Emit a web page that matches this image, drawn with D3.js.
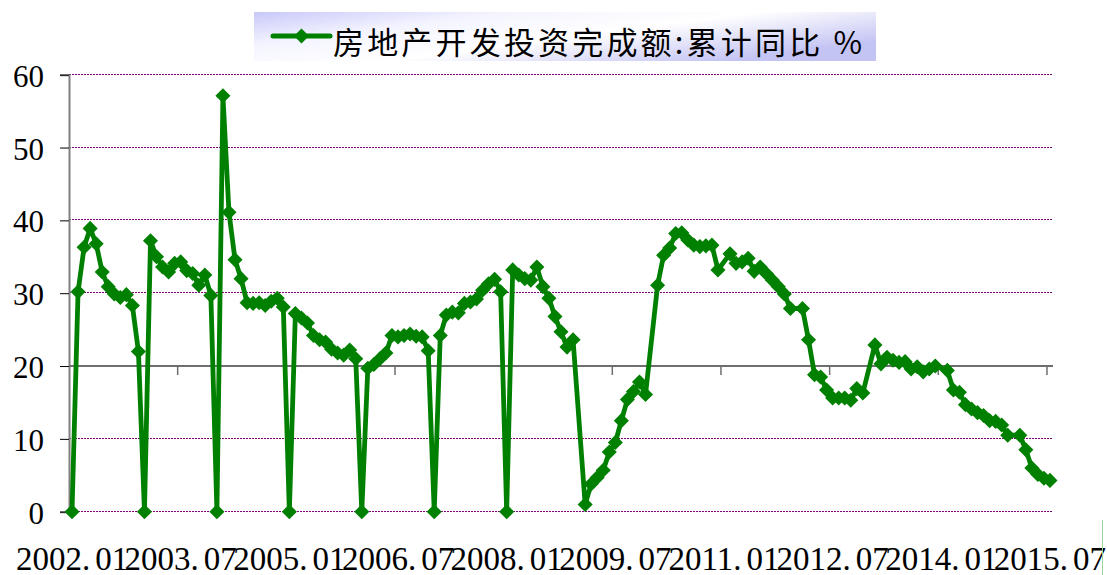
<!DOCTYPE html>
<html>
<head>
<meta charset="utf-8">
<script src="https://cdn.jsdelivr.net/npm/d3@7"></script>
<style>
  html, body { margin: 0; padding: 0; background: #ffffff; }
  svg { display: block; }
  .serif { font-family: "Liberation Serif", "DejaVu Serif", serif; }
</style>
</head>
<body>
<script>
// ---- DATA (cumulative YoY growth, %, monthly 2002.01 - 2015.07; null = no data point) ----
const seriesName = "房地产开发投资完成额:累计同比 %";
const startYear = 2002, endYear = 2015, endMonth = 7;
const v2002 = [0, 30.2, 36.3, 38.9, 36.8, 32.9, 30.9, 29.9, 29.4, 29.8, 28.3, 22.0];
const v2003 = [0, 37.2, 35.0, 33.6, 32.9, 34.1, 34.3, 33.1, 32.7, 31.1, 32.5, 29.7];
const v2004 = [0, 57.1, 41.1, 34.6, 32.0, 28.7, 28.6, 28.7, 28.3, 28.9, 29.3, 28.1];
const v2005 = [0, 27.2, 26.6, 25.9, 24.2, 23.6, 23.3, 22.3, 21.8, 21.5, 22.2, 21.0];
const v2006 = [0, 19.7, 20.2, 21.0, 21.8, 24.2, 24.0, 24.2, 24.4, 24.1, 24.0, 22.1];
const v2007 = [0, 24.2, 27.0, 27.4, 27.3, 28.6, 28.8, 29.2, 30.4, 31.3, 31.9, 30.2];
const v2008 = [0, 33.2, 32.5, 32.0, 31.8, 33.6, 30.9, 29.3, 26.8, 24.7, 22.6, 23.6];
const v2009 = [null, 1.0, 3.8, 4.7, 5.7, 8.2, 9.5, 12.5, 15.4, 16.5, 17.8, 16.1];
const v2010 = [null, 31.1, 35.2, 36.2, 38.2, 38.3, 37.3, 36.6, 36.4, 36.5, 36.6, 33.2];
const v2011 = [null, 35.4, 34.1, 34.3, 34.8, 33.0, 33.6, 32.7, 31.8, 30.9, 29.9, 27.9];
const v2012 = [null, 27.9, 23.6, 18.8, 18.5, 16.7, 15.6, 15.6, 15.6, 15.3, 16.9, 16.3];
const v2013 = [null, 22.9, 20.3, 21.2, 20.8, 20.5, 20.6, 19.6, 19.9, 19.2, 19.6, 20.0];
const v2014 = [null, 19.4, 16.7, 16.4, 14.7, 14.1, 13.6, 13.2, 12.5, 12.4, 11.9, 10.5];
const v2015 = [null, 10.5, 8.5, 6.0, 5.1, 4.6, 4.3];
const yTicks = [0, 10, 20, 30, 40, 50, 60];
const xTickLabels = ["2002.01", "2003.07", "2005.01", "2006.07", "2008.01",
                     "2009.07", "2011.01", "2012.07", "2014.01", "2015.07"];

// ---- build table ----
const values = [].concat(v2002, v2003, v2004, v2005, v2006, v2007, v2008,
                         v2009, v2010, v2011, v2012, v2013, v2014, v2015);
const categories = [];
for (let yy = startYear; yy <= endYear; yy++) {
  for (let m = 1; m <= 12; m++) {
    if (yy === endYear && m > endMonth) break;
    categories.push(yy + "." + String(m).padStart(2, "0"));
  }
}
const data = categories.map((c, i) => ({ cat: c, value: values[i] }));

// ---- layout ----
const W = 1107, H = 575;
const green = "#008000";
const svg = d3.select("body").append("svg").attr("width", W).attr("height", H);
svg.append("rect").attr("width", W).attr("height", H).attr("fill", "#ffffff");

const x = d3.scaleBand().domain(categories).range([69, 1053]).paddingInner(0).paddingOuter(0);
const cx = c => x(c) + x.bandwidth() / 2;
const y = d3.scaleLinear().domain([0, 60]).range([511.7, 74.7]);
const crisp = v => Math.round(y(v)) - 0.5;

// gridlines
svg.append("g").selectAll("line").data(yTicks).join("line")
  .attr("x1", 69).attr("x2", 1053)
  .attr("y1", d => crisp(d)).attr("y2", d => crisp(d))
  .attr("stroke", "#800080").attr("stroke-width", 1)
  .attr("stroke-dasharray", "2,1");

// y axis
const yAxis = d3.axisLeft(y).tickValues(yTicks).tickSize(9).tickPadding(0).tickFormat(d3.format("d"));
const gy = svg.append("g").attr("transform", "translate(69,0)").call(yAxis);
gy.attr("font-family", null).attr("font-size", null);
gy.select(".domain").attr("stroke", "#808080").attr("stroke-width", 2);
gy.selectAll(".tick line").attr("stroke", "#000").attr("stroke-width", 1);
gy.selectAll(".tick text")
  .attr("class", "serif")
  .attr("x", -25).attr("dy", null).attr("y", 11.5)
  .attr("text-anchor", "end")
  .style("font-size", "31px").attr("fill", "#000");

// x axis crossing at 20
const gx = svg.append("g").attr("transform", `translate(0,${Math.round(y(20))})`);
gx.append("line").attr("x1", 69).attr("x2", 1053).attr("y1", 0).attr("y2", 0)
  .attr("stroke", "#6e6e6e").attr("stroke-width", 2);
gx.selectAll("line.tk").data(xTickLabels.slice(1)).join("line").attr("class", "tk")
  .attr("x1", d => x(d)).attr("x2", d => x(d))
  .attr("y1", 0).attr("y2", 9)
  .attr("stroke", "#6e6e6e").attr("stroke-width", 1.5);

// x labels (at bottom)
const xl = svg.append("g").selectAll("text").data(xTickLabels).join("text")
  .attr("class", "serif")
  .attr("x", d => cx(d)).attr("y", 569.5)
  .attr("text-anchor", "middle")
  .style("font-size", "33px").attr("fill", "#000");
xl.append("tspan").text(d => d.split(".")[0] + ".");
xl.append("tspan").attr("dx", 5).text(d => d.split(".")[1]);

// series line (gaps connected)
const defined = data.filter(d => d.value !== null);
const line = d3.line().x(d => cx(d.cat)).y(d => y(d.value));
svg.append("path").datum(defined)
  .attr("d", line).attr("fill", "none")
  .attr("stroke", green).attr("stroke-width", 4.8)
  .attr("stroke-linejoin", "round");

// markers (diamonds)
const diamond = d3.symbol().type(d3.symbolDiamond2).size(145);
svg.append("g").selectAll("path").data(defined).join("path")
  .attr("transform", d => `translate(${cx(d.cat)},${y(d.value)})`)
  .attr("d", diamond).attr("fill", green);

// legend / title box
const defs = svg.append("defs");
const grad = defs.append("linearGradient").attr("id", "lg")
  .attr("x1", "0").attr("y1", "0").attr("x2", "1").attr("y2", "0.6");
grad.append("stop").attr("offset", "0%").attr("stop-color", "#c8c8fa");
grad.append("stop").attr("offset", "30%").attr("stop-color", "#f4f4ff");
grad.append("stop").attr("offset", "60%").attr("stop-color", "#ffffff");
grad.append("stop").attr("offset", "100%").attr("stop-color", "#c4c4f4");
const lg = svg.append("g");
lg.append("rect").attr("x", 254).attr("y", 12).attr("width", 622).attr("height", 49)
  .attr("fill", "url(#lg)");
lg.append("line").attr("x1", 273).attr("x2", 330).attr("y1", 36).attr("y2", 36)
  .attr("stroke", green).attr("stroke-width", 5).attr("stroke-linecap", "round");
lg.append("path").attr("transform", "translate(301.5,36)").attr("d", diamond).attr("fill", green);
lg.append("text").attr("x", 333).attr("y", 54)
  .attr("font-family", "'Noto Sans CJK SC', sans-serif")
  .attr("font-size", 31).attr("fill", "#000")
  .attr("textLength", 529).attr("lengthAdjust", "spacing")
  .text(seriesName);

// thin edge line at far right bottom
svg.append("line").attr("x1", 1102.5).attr("x2", 1102.5).attr("y1", 520).attr("y2", 575)
  .attr("stroke", "#9ad39a").attr("stroke-width", 1);
</script>
</body>
</html>
